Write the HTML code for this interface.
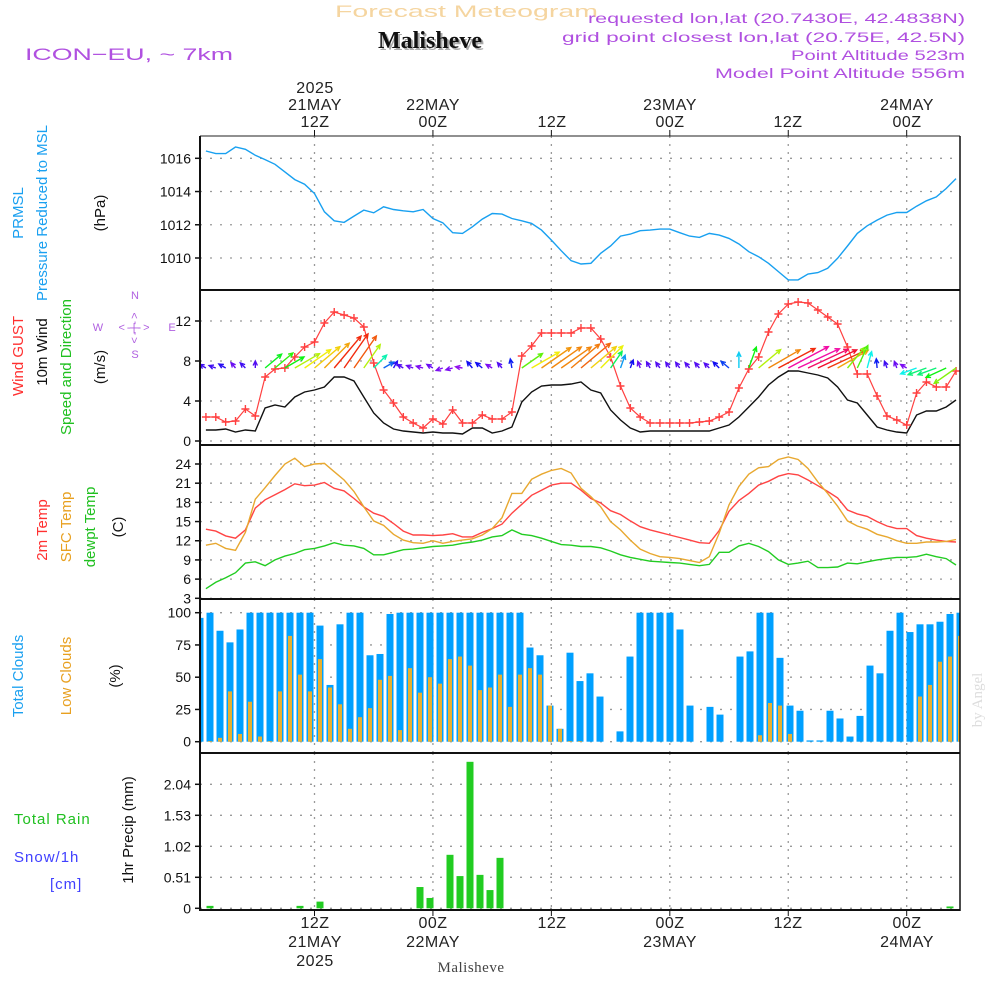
<!DOCTYPE html>
<html><head><meta charset="utf-8"><title>Meteogram Malisheve</title>
<style>
html,body{margin:0;padding:0;background:#fff;}
svg{display:block;font-family:"Liberation Sans",sans-serif;}
</style></head>
<body>
<svg id="chart" width="1000" height="1000" viewBox="0 0 1000 1000" xmlns="http://www.w3.org/2000/svg">
<rect width="1000" height="1000" fill="#fff"/>
<text x="335" y="17" font-size="17" textLength="263" lengthAdjust="spacingAndGlyphs" fill="#f5d5a0">Forecast Meteogram</text>
<text x="432" y="50" text-anchor="middle" font-size="24" font-weight="bold" font-family="Liberation Serif,serif" fill="#aaa">Malisheve</text>
<text x="430" y="48" text-anchor="middle" font-size="24" font-weight="bold" font-family="Liberation Serif,serif" fill="#111">Malisheve</text>
<g fill="#b050e0" font-size="14" lengthAdjust="spacingAndGlyphs">
<text x="588" y="23" textLength="377" lengthAdjust="spacingAndGlyphs">requested lon,lat (20.7430E, 42.4838N)</text>
<text x="562" y="42" textLength="403" lengthAdjust="spacingAndGlyphs">grid point closest lon,lat (20.75E, 42.5N)</text>
<text x="791" y="60" textLength="174" lengthAdjust="spacingAndGlyphs">Point Altitude 523m</text>
<text x="715" y="78" textLength="250" lengthAdjust="spacingAndGlyphs">Model Point Altitude 556m</text>
</g>
<text x="25" y="60" font-size="17" textLength="208" lengthAdjust="spacingAndGlyphs" fill="#b050e0">ICON−EU, ~ 7km</text>
<g font-size="16" fill="#222" text-anchor="middle" letter-spacing="0.5">
<text x="315" y="93">2025</text><text x="315" y="110">21MAY</text><text x="315" y="127">12Z</text>
<text x="433" y="110">22MAY</text><text x="433" y="127">00Z</text>
<text x="552" y="127">12Z</text>
<text x="670" y="110">23MAY</text><text x="670" y="127">00Z</text>
<text x="788" y="127">12Z</text>
<text x="907" y="110">24MAY</text><text x="907" y="127">00Z</text>
</g>
<g font-size="16" fill="#222" text-anchor="middle" letter-spacing="0.5">
<text x="315" y="928">12Z</text><text x="315" y="947">21MAY</text><text x="315" y="966">2025</text>
<text x="433" y="928">00Z</text><text x="433" y="947">22MAY</text>
<text x="552" y="928">12Z</text>
<text x="670" y="928">00Z</text><text x="670" y="947">23MAY</text>
<text x="788" y="928">12Z</text>
<text x="907" y="928">00Z</text><text x="907" y="947">24MAY</text>
</g>
<text x="471" y="972" text-anchor="middle" font-size="15" font-family="Liberation Serif,serif" fill="#444" letter-spacing="0.5">Malisheve</text>
<g font-size="15" text-anchor="middle">
<text transform="translate(23,213) rotate(-90)" fill="#1aa0f0">PRMSL</text>
<text transform="translate(47,213) rotate(-90)" fill="#1aa0f0">Pressure Reduced to MSL</text>
<text transform="translate(105,213) rotate(-90)" fill="#111">(hPa)</text>
<text transform="translate(23,356) rotate(-90)" fill="#ff3030">Wind GUST</text>
<text transform="translate(47,352) rotate(-90)" fill="#111">10m Wind</text>
<text transform="translate(71,367) rotate(-90)" fill="#20c020">Speed and Direction</text>
<text transform="translate(105,367) rotate(-90)" fill="#111">(m/s)</text>
<text transform="translate(47,530) rotate(-90)" fill="#ff3030">2m Temp</text>
<text transform="translate(71,527) rotate(-90)" fill="#e8a020">SFC Temp</text>
<text transform="translate(95,527) rotate(-90)" fill="#20c020">dewpt Temp</text>
<text transform="translate(123,527) rotate(-90)" fill="#111">(C)</text>
<text transform="translate(23,676) rotate(-90)" fill="#1aa0f0">Total Clouds</text>
<text transform="translate(71,676) rotate(-90)" fill="#e8a020">Low Clouds</text>
<text transform="translate(120,676) rotate(-90)" fill="#111">(%)</text>
<text transform="translate(133,830) rotate(-90)" fill="#111">1hr Precip (mm)</text>
</g>
<g font-size="15" letter-spacing="1">
<text x="14" y="824" fill="#20c020">Total  Rain</text>
<text x="14" y="862" fill="#4040ff">Snow/1h</text>
<text x="50" y="889" fill="#4040ff">[cm]</text>
</g>
<g fill="#b060e0" font-size="11" text-anchor="middle">
<text x="135" y="299">N</text>
<text x="135" y="358">S</text>
<text x="98" y="331">W</text>
<text x="172" y="331">E</text>
<text x="135" y="331" letter-spacing="2">&lt;-|-&gt;</text>
<text transform="translate(138,327) rotate(-90)" letter-spacing="2">&lt;-|-&gt;</text>
</g>
<text transform="translate(982,700) rotate(-90)" text-anchor="middle" font-size="15" font-family="Liberation Serif,serif" fill="#ddd">by Angel</text>
<g id="plots"></g>
</svg>
<script>
const hours = [];
for (let i = 1; i <= 77; i++) hours.push(i);
const pressure = [1016.44,1016.28,1016.28,1016.68,1016.54,1016.18,1015.92,1015.64,1015.18,1014.72,1014.44,1013.88,1012.78,1012.24,1012.14,1012.52,1012.88,1012.72,1013.08,1012.92,1012.84,1012.78,1012.92,1012.38,1012.12,1011.52,1011.48,1011.88,1012.34,1012.68,1012.64,1012.38,1012.24,1012.08,1011.68,1011.08,1010.44,1009.84,1009.64,1009.68,1010.28,1010.72,1011.32,1011.44,1011.64,1011.68,1011.74,1011.74,1011.52,1011.32,1011.24,1011.48,1011.38,1011.18,1010.84,1010.38,1010.08,1009.68,1009.18,1008.68,1008.68,1009.04,1009.12,1009.38,1009.98,1010.72,1011.48,1011.94,1012.28,1012.58,1012.74,1012.74,1013.12,1013.44,1013.68,1014.18,1014.78];
const gust = [2.4,2.4,1.9,2.0,3.2,2.5,6.4,7.2,7.3,8.4,9.4,9.9,11.8,12.9,12.6,12.3,11.4,7.8,5.1,3.8,2.4,1.8,1.3,2.2,1.7,3.1,1.8,1.8,2.6,2.2,2.2,2.9,8.5,9.5,10.8,10.8,10.8,10.8,11.3,11.3,10.2,8.4,5.5,3.3,2.4,1.8,1.8,1.8,1.8,1.8,1.9,2.0,2.4,2.9,5.3,7.2,8.4,10.9,12.7,13.7,13.9,13.8,13.1,12.4,11.7,9.4,6.7,6.7,4.5,2.5,2.1,1.6,4.8,5.9,5.4,5.4,7.0];
const wind = [1.1,1.1,1.2,0.9,1.1,1.0,3.3,3.6,3.4,4.4,4.9,5.1,5.4,6.4,6.4,6.0,4.4,2.8,1.8,1.2,1.0,0.9,0.8,0.9,0.8,0.8,0.7,1.3,1.3,0.8,1.0,1.4,3.9,4.9,5.5,5.6,5.6,5.7,5.9,5.1,4.8,3.1,2.1,1.3,0.9,1.0,1.0,1.0,1.0,1.0,1.0,1.0,1.3,1.6,2.4,3.4,4.4,5.6,6.4,7.0,7.0,6.8,6.6,6.3,5.4,4.1,3.8,2.6,1.4,1.1,0.9,0.8,2.6,3.0,3.0,3.4,4.1];
const windDir = [150,160,150,130,135,90,40,40,30,30,35,40,45,50,55,55,55,45,30,60,150,160,165,150,200,195,170,130,140,150,130,100,35,30,35,35,35,40,40,40,45,55,70,70,110,120,125,125,125,130,130,135,135,140,90,70,40,30,28,28,25,25,25,25,30,50,65,75,95,110,110,150,200,200,200,205,215];
const temp2m = [13.8,13.5,12.75,12.4,13.7,17.1,18.4,19.2,20.0,20.9,20.6,20.7,21.1,20.2,19.8,18.6,17.3,16.3,15.8,14.7,13.5,12.9,12.9,12.8,12.9,13.1,12.6,12.6,13.3,13.9,14.6,16.3,17.7,19.1,19.9,20.7,21.0,21.0,19.9,18.6,17.9,16.7,16.1,15.1,14.2,13.7,13.3,12.9,12.5,12.1,11.7,11.6,13.6,16.6,18.3,19.4,20.7,21.3,22.1,22.5,22.3,21.5,20.6,19.7,18.7,16.8,16.2,15.8,15.0,14.3,13.9,13.9,12.8,12.4,12.1,11.9,11.8];
const sfcTemp = [11.3,11.6,10.8,10.5,13.3,18.5,20.3,22.2,24.0,24.9,23.6,24.0,24.1,22.8,21.5,19.7,17.3,15.1,14.4,13.0,12.1,11.7,11.6,12.0,11.6,11.9,12.1,12.3,12.9,13.9,15.6,19.4,19.4,21.6,22.4,23.0,23.3,22.6,20.2,18.9,17.3,15.0,13.7,12.1,10.7,10.0,9.5,9.4,9.2,8.9,8.6,9.5,13.2,17.6,20.5,22.4,23.4,23.6,24.7,25.1,24.7,23.3,21.2,19.4,17.4,15.1,14.3,13.8,13.0,12.6,12.0,11.6,11.6,11.8,11.8,11.9,12.2];
const dewpt = [4.5,5.5,6.2,7.0,8.5,8.7,8.1,9.0,9.6,10.0,10.6,10.8,11.2,11.7,11.3,11.2,10.8,9.8,9.8,10.2,10.6,10.7,10.9,11.1,11.2,11.3,11.6,11.8,12.1,12.6,12.8,13.7,13.0,12.8,12.4,11.9,11.4,11.3,11.1,11.1,10.9,10.4,9.8,9.4,9.1,8.8,8.7,8.6,8.5,8.3,8.1,8.3,10.2,10.2,11.2,11.6,11.1,10.3,9.0,8.3,8.5,8.8,7.8,7.8,7.9,8.5,8.4,8.7,9.0,9.2,9.4,9.4,9.5,9.9,9.5,9.2,8.2];
const totalClouds = [96,100,86,77,87,100,100,100,100,100,100,100,90,44,91,100,100,67,68,99,100,100,100,100,100,100,100,100,100,100,100,100,100,73,67,28,10,69,47,53,35,0,8,66,100,100,100,100,87,28,0,27,21,0,66,70,100,100,65,28,24,1,1,24,18,4,20,59,53,86,100,85,91,91,93,99,100];
const lowClouds = [0,0.5,3,39,6,31,4,0.5,39,82,52,39,64,42,29,10,19,26,48,51,9,57,38,50,45,64,66,59,40,42,52,27,52,57,52,28,10,0.5,0.5,0,0,0,0,0,0,0,0,0,0,0,0,0,0,0,0,0,5,30,28,6,0,0,0,0,0,0,0,0,0,0,0,0,35,44,62,66,82];
const precip = [0,0.04,0,0,0,0,0,0,0,0,0.04,0,0.11,0,0,0,0,0,0,0,0,0,0.35,0.17,0,0.88,0.53,2.41,0.55,0.30,0.83,0,0,0,0,0,0,0,0,0,0,0,0,0,0,0,0,0,0,0,0,0,0,0,0,0,0,0,0,0,0,0,0,0,0,0,0,0,0,0,0,0,0,0,0,0.03,0];
const pressureTicks = [1010,1012,1014,1016];
const windTicks = [0,4,8,12];
const tempTicks = [3,6,9,12,15,18,21,24];
const cloudTicks = [0,25,50,75,100];
const precipTicks = [0,0.51,1.02,1.53,2.04];
const gridHours = [12,24,36,48,60,72];

const NS = 'http://www.w3.org/2000/svg';
const root = document.getElementById('plots');
const X0 = 200, X1 = 960;
function xLine(h){ return 200 + (h - 0.4) * 9.87; }
function xBar(i){ return 200 + i * 10; }
function lin(v0, y0, v1, y1){ return v => y0 + (v - v0) * (y1 - y0) / (v1 - v0); }
const yP = lin(1010, 258, 1016, 158.3);
const yW = lin(0, 441, 12, 321);
const yT = lin(24, 464, 3, 598.3);
const yC = lin(0, 741.7, 100, 612.7);
const yR = lin(0, 908.3, 2.04, 784.3);
function mk(tag, attrs, parent){
  const e = document.createElementNS(NS, tag);
  for (const k in attrs) e.setAttribute(k, attrs[k]);
  (parent || root).appendChild(e);
  return e;
}
const panels = [
  {name:'pressure', top:136, bot:290, ticks:pressureTicks, y:yP, lab:v=>String(v)},
  {name:'wind', top:290, bot:445, ticks:windTicks, y:yW, lab:v=>String(v)},
  {name:'temperature', top:445, bot:599, ticks:tempTicks, y:yT, lab:v=>String(v)},
  {name:'clouds', top:599, bot:753, ticks:cloudTicks, y:yC, lab:v=>String(v)},
  {name:'precip', top:753, bot:910, ticks:precipTicks, y:yR, lab:v=>v===0?'0':v.toFixed(2)}
];
const clip = mk('clipPath', {id:'plotclip'});
mk('rect', {x:X0, y:136, width:X1-X0, height:774}, clip);
panels.forEach(p => {
  const g = mk('g', {});
  
  
  gridHours.forEach(h => {
    const gx = xLine(h);
    const l = mk('line', {x1:gx, x2:gx, y1:p.top, y2:p.bot, stroke:'#999', 'stroke-width':1.3, 'stroke-dasharray':'2,6'}, g);
    
    
  });
  p.ticks.forEach(v => {
    const ty = p.y(v);
    const l = mk('line', {x1:X0, x2:X1, y1:ty, y2:ty, stroke:'#999', 'stroke-width':1.3, 'stroke-dasharray':'2,8'}, g);
    
    
    const tk = mk('line', {x1:X0-5, x2:X0, y1:ty, y2:ty, stroke:'#111', 'stroke-width':1.5}, g);
    
    
    const t = mk('text', {x:X0-9, y:ty+5, 'text-anchor':'end', 'font-size':14, fill:'#111'}, g);
    
    
    t.textContent = p.lab(v);
  });
});
function polyline(vals, yf, color, name, w){
  const pts = vals.map((v,i) => xLine(hours[i]).toFixed(1) + ',' + yf(v).toFixed(1)).join(' ');
  const e = mk('polyline', {points:pts, fill:'none', stroke:color, 'stroke-width':w||1.4, 'clip-path':'url(#plotclip)'});
  
  
  return e;
}
polyline(pressure, yP, '#18a0f0', 'pressure-line');
totalClouds.forEach((v,i) => {
  const bx = xBar(i);
  const r = mk('rect', {x:bx-3.5, y:yC(v), width:7, height:yC(0)-yC(v), fill:'#00a0ff', 'clip-path':'url(#plotclip)'});
  
  
});
lowClouds.forEach((v,i) => {
  const bx = xBar(i);
  const r = mk('rect', {x:bx-2, y:yC(v), width:4, height:yC(0)-yC(v), fill:'#e8b030', 'clip-path':'url(#plotclip)'});
  
  
});
precip.forEach((v,i) => {
  if (v <= 0) return;
  const bx = xBar(i);
  const r = mk('rect', {x:bx-3.5, y:yR(v), width:7, height:yR(0)-yR(v), fill:'#22cc22', 'clip-path':'url(#plotclip)'});
  
  
});
polyline(temp2m, yT, '#ff4444', 'temp-2m-line');
polyline(sfcTemp, yT, '#e8a830', 'sfc-temp-line');
polyline(dewpt, yT, '#22cc22', 'dewpoint-line');
polyline(wind, yW, '#111', 'wind-speed-line');
polyline(gust, yW, '#ff4040', 'gust-line', 1.2);
gust.forEach((v,i) => {
  const cx = xLine(hours[i]), cy = yW(v);
  const m = mk('path', {d:`M${cx-4},${cy}H${cx+4}M${cx},${cy-4}V${cy+4}`, stroke:'#ff4040', 'stroke-width':1.4, 'clip-path':'url(#plotclip)'});
  
  
});
const colStops = [[0.7,275],[1.5,230],[2.5,185],[3.3,125],[4.3,80],[5.0,55],[5.6,32],[6.4,8],[7.0,320]];
function windColor(s){
  if (s <= colStops[0][0]) return 'hsl(' + colStops[0][1] + ',85%,50%)';
  for (let k = 1; k < colStops.length; k++) {
    if (s <= colStops[k][0]) {
      const a = colStops[k-1], b = colStops[k];
      let h1 = a[1], h2 = b[1];
      if (h2 > h1 + 180) h2 -= 360;
      let hh = h1 + (s - a[0]) / (b[0] - a[0]) * (h2 - h1);
      if (hh < 0) hh += 360;
      return 'hsl(' + hh.toFixed(0) + ',90%,50%)';
    }
  }
  return 'hsl(320,90%,50%)';
}
wind.forEach((s,i) => {
  const tx = xLine(hours[i]), ty = 368;
  const len = Math.max(7, s * 6.5);
  const a = windDir[i] * Math.PI / 180;
  const hx = tx + Math.cos(a) * len, hy = ty - Math.sin(a) * len;
  const c = windColor(s);
  const b1 = a + Math.PI - 0.45, b2 = a + Math.PI + 0.45;
  const d = `M${tx.toFixed(1)},${ty}L${hx.toFixed(1)},${hy.toFixed(1)}M${(hx+Math.cos(b1)*5).toFixed(1)},${(hy-Math.sin(b1)*5).toFixed(1)}L${hx.toFixed(1)},${hy.toFixed(1)}L${(hx+Math.cos(b2)*5).toFixed(1)},${(hy-Math.sin(b2)*5).toFixed(1)}`;
  const e = mk('path', {d:d, stroke:c, 'stroke-width':1.4, fill:'none', 'clip-path':'url(#plotclip)'});
  
  
});
const fr = mk('g', {});


mk('line', {x1:X0, x2:X1, y1:136, y2:136, stroke:'#222', 'stroke-width':1}, fr);
[290,445,599,753].forEach(yy => mk('line', {x1:X0, x2:X1, y1:yy, y2:yy, stroke:'#111', 'stroke-width':2}, fr));
mk('line', {x1:X0, x2:X1, y1:910, y2:910, stroke:'#111', 'stroke-width':2}, fr);
mk('line', {x1:X0, x2:X0, y1:136, y2:911, stroke:'#111', 'stroke-width':2}, fr);
mk('line', {x1:X1, x2:X1, y1:136, y2:911, stroke:'#111', 'stroke-width':1.5}, fr);
gridHours.forEach(h => {
  const gx = xLine(h);
  mk('line', {x1:gx, x2:gx, y1:130, y2:136, stroke:'#111', 'stroke-width':1}, fr);
  mk('line', {x1:gx, x2:gx, y1:910, y2:916, stroke:'#111', 'stroke-width':1}, fr);
});
</script>
</body></html>
